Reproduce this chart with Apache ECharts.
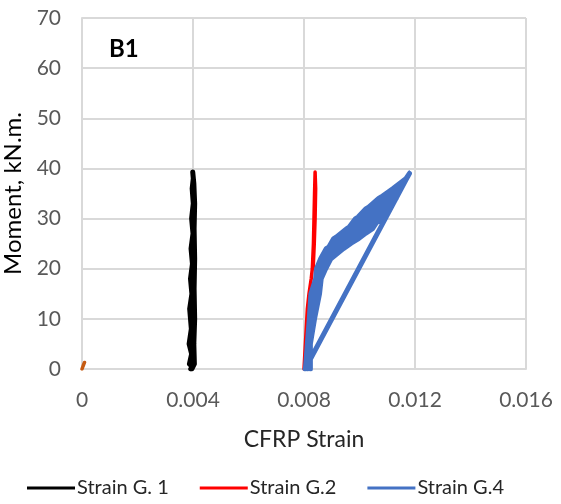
<!DOCTYPE html>
<html>
<head>
<meta charset="utf-8">
<script src="https://cdn.jsdelivr.net/npm/echarts@6/dist/echarts.min.js"></script>
<style>html,body{margin:0;padding:0;background:#fff}#c{width:561px;height:504px}</style>
</head>
<body>
<div id="c"></div>
<script>
// x: CFRP Strain, y: Moment (kN.m.)
const xTicks = [0, 0.004, 0.008, 0.012, 0.016];
const yTicks = [0, 10, 20, 30, 40, 50, 60, 70];
const seriesNames = ['Strain G. 1', 'Strain G.2', 'Strain G.4'];

const g1 = [
  [0.00392,0],[0.00398,0.5],[0.00387,1],[0.00395,3],[0.00386,5],[0.00394,8],
  [0.00388,12],[0.00396,15],[0.00391,18],[0.00398,21],[0.00393,24],[0.00400,27],
  [0.00395,30],[0.00401,33],[0.00397,36],[0.00401,38],[0.00399,39.3],[0.00403,37],
  [0.00406,33],[0.00404,28],[0.00406,22],[0.00404,16],[0.00406,10],[0.00403,5],
  [0.00405,1],[0.00396,0]
];

const g2 = [
  [0.00800,0],[0.00806,6],[0.00812,12],[0.00818,15],[0.00826,18],[0.00830,20],
  [0.00834,25],[0.00836,30],[0.00838,35],[0.00840,39.3],[0.00842,36],[0.00840,30],
  [0.00837,25],[0.00833,20]
];

const g4 = [
  // straight unloading line
  [0.00804,0],[0.01180,39],
  // lower edge (jagged)
  [0.01170,38],[0.01150,36],[0.01141,35.2],[0.01132,34],[0.01115,33],[0.01104,32],
  [0.01093,31.1],[0.01082,30],[0.01060,29.1],[0.01047,28],[0.01023,27.1],[0.00997,26],
  [0.00970,25.1],[0.00942,24],[0.00897,22],[0.00878,20],[0.00862,18],[0.00856,15],
  [0.00838,10],[0.00823,5],[0.00823,0],
  // pass
  [0.00818,0],[0.00820,5],[0.00833,10],[0.00848,15],[0.00858,18],[0.00872,20],[0.00888,22],
  [0.00928,24],[0.00975,26],[0.01024,28],[0.01060,30],[0.01086,32],[0.01118,34],
  [0.01143,36],[0.01170,38],[0.01180,39],
  // pass
  [0.01169,38],[0.01137,36],[0.01104,34],[0.01069,32],[0.01040,30],[0.01005,28],
  [0.00958,26],[0.00916,24],[0.00881,22],[0.00862,20],[0.00852,18],[0.00840,15],
  [0.00829,10],[0.00817,5],[0.00812,0],
  // pass
  [0.00808,0],[0.00815,5],[0.00824,10],[0.00832,15],[0.00845,18],[0.00847,20],[0.00870,22],
  [0.00900,24],[0.00935,26],[0.00982,28],[0.01016,30],[0.01050,32],[0.01090,34],
  [0.01131,36],[0.01169,38],[0.01180,39],
  // pass
  [0.01168,38],[0.01127,36],[0.01084,34],[0.01040,32],[0.00999,30],[0.00965,28],
  [0.00916,26],[0.00885,24],[0.00866,22],[0.00846,20],[0.00842,18],[0.00828,15],
  [0.00821,10],[0.00813,5],[0.00805,0],
  // upper edge (jagged)
  [0.00803,0],[0.00812,5],[0.00819,10],[0.00825,15],[0.00842,18],[0.00845,20],[0.00860,22],
  [0.00880,24],[0.00889,24.3],[0.00907,26],[0.00916,26.3],[0.00954,28],[0.00963,28.3],
  [0.00986,30],[0.00995,30.3],[0.01024,32],[0.01033,32.3],[0.01069,34],[0.01078,34.3],
  [0.01121,36],[0.01168,38],[0.01180,39]
];

const gOther = [[0.00000,0],[0.00004,0.6],[0.00009,1.3]];

const font = 'Lato, "Open Sans", sans-serif';
const chart = echarts.init(document.getElementById('c'), null, {renderer: 'canvas'});
chart.setOption({
  animation: false,
  backgroundColor: '#fff',
  grid: {left: 82, right: 35, top: 18, bottom: 135, containLabel: false, outerBoundsMode: 'none'},
  graphic: [{type: 'text', left: 109, top: 37, style: {text: 'B1', font: 'bold 24px ' + font, fill: '#000'}}],
  legend: {
    left: 22, bottom: 1, itemWidth: 48, itemHeight: 3, itemGap: 31, icon: 'rect',
    data: seriesNames,
    textStyle: {fontFamily: font, fontSize: 20, color: '#262626', padding: [0,0,0,-3]}
  },
  xAxis: {
    type: 'value', min: xTicks[0], max: xTicks[xTicks.length-1], interval: 0.004,
    name: 'CFRP Strain', nameLocation: 'middle', nameGap: 59,
    nameTextStyle: {fontFamily: font, fontSize: 23, color: '#262626'},
    axisLine: {show: true, lineStyle: {color: '#d9d9d9', width: 2}},
    axisTick: {show: false},
    axisLabel: {margin: 21, fontFamily: font, fontSize: 21, color: '#595959',
      formatter: v => { const t = xTicks.find(k => Math.abs(k - v) < 1e-9); return t === 0 ? '0' : (t !== undefined ? t.toFixed(3) : ''); }},
    splitLine: {show: true, lineStyle: {color: '#d9d9d9', width: 2}}
  },
  yAxis: {
    type: 'value', min: yTicks[0], max: yTicks[yTicks.length-1], interval: 10,
    name: 'Moment, kN.m.', nameLocation: 'middle', nameGap: 52, nameRotate: 90,
    nameTextStyle: {fontFamily: font, fontSize: 24, color: '#000'},
    axisLine: {show: true, lineStyle: {color: '#d9d9d9', width: 2}},
    axisTick: {show: false},
    axisLabel: {margin: 21, fontFamily: font, fontSize: 21, color: '#595959'},
    splitLine: {show: true, lineStyle: {color: '#d9d9d9', width: 2}}
  },
  series: [
    {name: seriesNames[0], type: 'line', data: g1, showSymbol: false, symbol: 'none', color: '#000000',
     lineStyle: {width: 5, color: '#000000', join: 'round', cap: 'round'}},
    {name: seriesNames[1], type: 'line', data: g2, showSymbol: false, symbol: 'none', color: '#ff0000',
     lineStyle: {width: 3.5, color: '#ff0000', join: 'round', cap: 'round'}},
    {name: seriesNames[2], type: 'line', data: g4, showSymbol: false, symbol: 'none', color: '#4472c4',
     lineStyle: {width: 5, color: '#4472c4', join: 'round', cap: 'round'}},
    {name: 'other', type: 'line', data: gOther, showSymbol: false, symbol: 'none', color: '#c55a11',
     lineStyle: {width: 3.5, color: '#c55a11', cap: 'round'}}
  ]
});
</script>
</body>
</html>
